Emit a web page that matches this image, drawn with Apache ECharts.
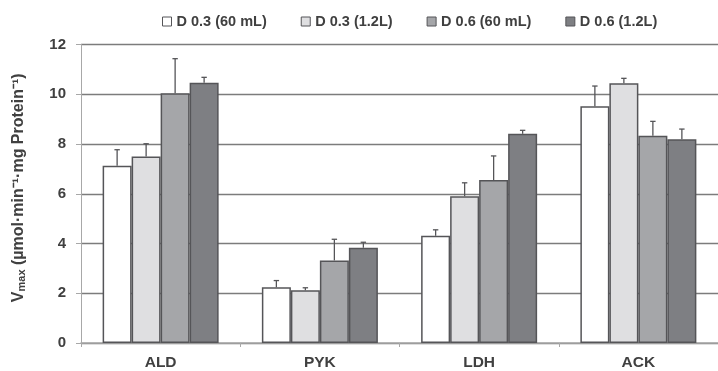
<!DOCTYPE html>
<html>
<head>
<meta charset="utf-8">
<script src="https://cdn.jsdelivr.net/npm/echarts@6/dist/echarts.min.js"></script>
<style>
  html, body { margin: 0; padding: 0; background: #fff; }
  #chart { width: 718px; height: 371px; }
</style>
</head>
<body>
<div id="chart"></div>
<script>
// Enzymes on the x axis
const categories = ['ALD', 'PYK', 'LDH', 'ACK'];
// Culture conditions (dilution rate / volume)
const seriesNames = ['D 0.3 (60 mL)', 'D 0.3 (1.2L)', 'D 0.6 (60 mL)', 'D 0.6 (1.2L)'];
// Mean Vmax values per condition, in category order
const d03_60mL = [7.13, 2.24, 4.31, 9.52];
const d03_12L  = [7.50, 2.12, 5.90, 10.44];
const d06_60mL = [10.04, 3.32, 6.55, 8.33];
const d06_12L  = [10.46, 3.83, 8.41, 8.19];
// Standard deviations (upper error bars)
const err_d03_60mL = [0.64, 0.27, 0.24, 0.81];
const err_d03_12L  = [0.51, 0.10, 0.54, 0.20];
const err_d06_60mL = [1.39, 0.85, 0.97, 0.58];
const err_d06_12L  = [0.22, 0.22, 0.14, 0.41];
// Y axis ticks
const yMin = 0, yMax = 12, yStep = 2;

const means = [d03_60mL, d03_12L, d06_60mL, d06_12L];
const errs = [err_d03_60mL, err_d03_12L, err_d06_60mL, err_d06_12L];
const fills = ['#ffffff', '#dfdfe1', '#a5a6a9', '#7e7f83'];
const BAR_W = 29;
const textColor = '#404040';
const FONT = 'Liberation Sans, Arial, sans-serif';

const barSeries = seriesNames.map((name, i) => ({
  name: name,
  type: 'bar',
  data: means[i],
  barWidth: BAR_W,
  barGap: '0%',
  itemStyle: { color: fills[i], borderColor: '#555558', borderWidth: 1.5 },
  z: 2
}));

// Upper error bars, placed over the matching bar within each category
const errSeries = seriesNames.map((name, i) => ({
  name: name,
  type: 'custom',
  data: means[i].map((v, k) => [k, v, v + errs[i][k]]),
  z: 3,
  renderItem: function (params, api) {
    const base = api.coord([api.value(0), api.value(1)]);
    const top = api.coord([api.value(0), api.value(2)]);
    const x = base[0] + (i - 1.5) * BAR_W;
    const cap = 2.7;
    const style = { stroke: '#555558', lineWidth: 1.3, fill: null };
    return {
      type: 'group',
      children: [
        { type: 'line', shape: { x1: x, y1: base[1], x2: x, y2: top[1] }, style: style },
        { type: 'line', shape: { x1: x - cap, y1: top[1], x2: x + cap, y2: top[1] }, style: style }
      ]
    };
  }
}));

const chart = echarts.init(document.getElementById('chart'), null, { renderer: 'canvas' });
chart.setOption({
  animation: false,
  backgroundColor: '#ffffff',
  textStyle: { fontFamily: FONT },
  legend: {
    data: seriesNames,
    top: 9,
    left: 157,
    itemWidth: 9,
    itemHeight: 9,
    itemGap: 34,
    icon: 'rect',
    itemStyle: { borderWidth: 1 },
    textStyle: { color: textColor, fontWeight: 'bold', fontSize: 14.5, fontFamily: FONT }
  },
  grid: { left: 81, right: -5, top: 44.5, bottom: 28, containLabel: false },
  xAxis: {
    type: 'category',
    data: categories,
    axisLine: { lineStyle: { color: '#a8a8a8', width: 1.5 } },
    axisTick: { show: true, length: 4, lineStyle: { color: '#a8a8a8' } },
    axisLabel: { color: textColor, fontWeight: 'bold', fontSize: 15.5, margin: 12 }
  },
  yAxis: {
    type: 'value',
    min: yMin,
    max: yMax,
    interval: yStep,
    name: '{v|V}{sub|max}{v| (µmol·min⁻¹·mg Protein⁻¹)}',
    nameLocation: 'middle',
    nameGap: 54,
    nameRotate: 90,
    nameTextStyle: {
      padding: [0, 0, 0, 12],
      rich: {
        v: { fontSize: 16, fontWeight: 'bold', color: textColor, fontFamily: FONT },
        sub: { fontSize: 11, fontWeight: 'bold', color: textColor, fontFamily: FONT, padding: [6, 0, 0, 0] }
      }
    },
    axisLine: { show: true, lineStyle: { color: '#a8a8a8', width: 1 } },
    axisTick: { show: true, length: 5, lineStyle: { color: '#a8a8a8' } },
    axisLabel: { color: textColor, fontWeight: 'bold', fontSize: 15, margin: 15 },
    splitLine: { lineStyle: { color: '#7c7c7c', width: 1.3 } }
  },
  series: barSeries.concat(errSeries)
});
</script>
</body>
</html>
